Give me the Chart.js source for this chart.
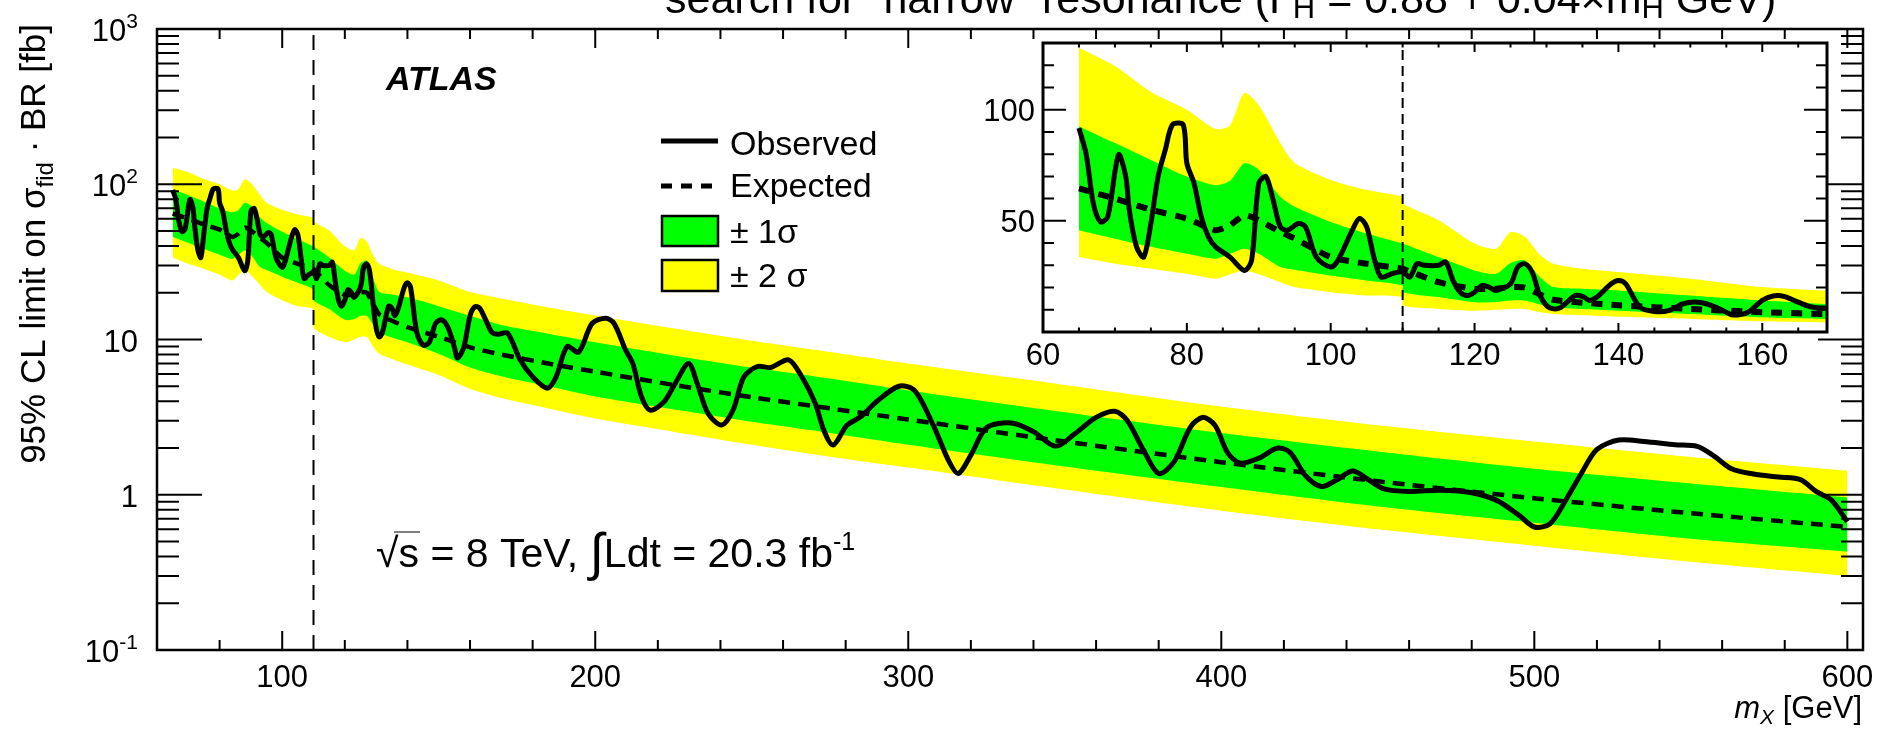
<!DOCTYPE html>
<html>
<head>
<meta charset="utf-8">
<script src="https://cdn.jsdelivr.net/npm/chart.js@4.4.1/dist/chart.umd.min.js"></script>
<style>
  body { margin: 0; background: #fff; }
  #wrap { position: relative; width: 1880px; height: 731px; overflow: hidden; }
  canvas { position: absolute; }
</style>
</head>
<body>
<div id="wrap">
  <canvas id="mainPlot" width="1880" height="731" style="left:0;top:0"></canvas>
  <canvas id="insetPlot" width="880" height="360" style="left:980px;top:30px"></canvas>
</div>
<script>
// ---- data ----
const bandMass = [65, 70, 75, 80, 84, 86, 88, 90, 93, 95, 100, 105, 110, 110, 115, 120, 123, 125, 127, 129,
                  131, 135, 140, 150, 160, 170, 185, 200, 225, 250, 275, 300, 350, 400, 450, 500, 550, 600];
const expLimit = [64.6, 60, 55, 51, 45.8, 48, 52.6, 50.3, 45, 42, 33.7, 30.7, 28.5, 28.5, 22.4, 19.4, 19.5, 20.2, 20, 17,
                  14.5, 13.2, 12, 10.4, 8.9, 8.0, 7.0, 6.2, 5.1, 4.25, 3.6, 3.05, 2.2, 1.62, 1.22, 0.95, 0.76, 0.62];
const sig2Hi = [127.9, 119.6, 108, 100, 91.3, 93, 107.5, 102, 85, 76, 68.4, 63.9, 60.8, 57.8, 50.3, 39.8, 37.5, 45, 42.8, 35,
                30.7, 28.5, 27, 24, 20.2, 18.4, 16.1, 14.3, 11.8, 9.8, 8.3, 7.0, 5.1, 3.7, 2.8, 2.2, 1.75, 1.43];
const sig1Hi = [92.5, 85, 77.4, 69.9, 66, 68, 75.9, 72.9, 60.8, 56.3, 49.5, 44.3, 39.8, 39.8, 33.7, 27.7, 26.2, 31, 32.2, 25,
                20.2, 19.5, 18.7, 16.4, 14.2, 12.4, 10.9, 9.6, 7.9, 6.6, 5.6, 4.7, 3.4, 2.5, 1.9, 1.47, 1.18, 0.96];
const sig1Lo = [45.8, 42, 38.3, 35.2, 33, 35.2, 37.5, 35.2, 29.2, 28, 25.4, 23.2, 20.9, 17.9, 15.7, 13.4, 13.5, 14.2, 14.2, 12.5,
                11.1, 10.3, 9.6, 8.1, 6.6, 5.8, 5.0, 4.3, 3.55, 2.95, 2.5, 2.1, 1.52, 1.12, 0.84, 0.66, 0.52, 0.43];
const sig2Lo = [33.7, 30.7, 28.5, 26.2, 24, 26, 27.7, 26, 22.4, 20.2, 17.9, 16.4, 15.7, 11.9, 10.4, 9.6, 10, 10.4, 10.4, 9,
                8.1, 7.5, 6.9, 5.9, 4.8, 4.2, 3.6, 3.1, 2.55, 2.1, 1.76, 1.5, 1.08, 0.79, 0.60, 0.47, 0.37, 0.30];

const obsMass = [65, 66, 67, 68, 69, 70.5, 71.5, 72, 73, 74, 75, 76, 77, 78, 79.5, 80, 81, 82, 83, 84,
                 86, 88, 89, 90, 91, 92, 93, 94, 95.5, 96.5, 98, 100, 101, 103, 104, 105, 106, 107, 108.5, 110,
                 111, 112, 113, 115, 116, 117, 118, 119, 120, 121, 122, 123, 125, 126, 127, 128, 129, 130, 131, 132,
                 134, 135, 136, 137, 139, 140, 141, 143, 145, 147, 149, 151, 153, 155, 156, 158, 160, 161.5, 163, 165,
                 167, 169, 172, 176, 180, 184.7, 187.5, 191, 194.7, 199, 203.3, 206, 209.7, 212, 214.8, 217.6, 222, 225.5,
                 229.8, 232.6, 236, 240.4, 244, 247.5, 251.8, 256, 261.8, 266, 270.3, 273, 276, 280.4, 285, 290,
                 297, 302, 308, 313, 316, 320, 325, 333, 340, 347, 353, 360, 366, 370, 375, 380, 385, 390,
                 394, 398, 402, 406, 412, 418, 422, 427, 432, 437, 442, 447, 452, 460, 470, 480, 488, 495,
                 500, 505, 510, 515, 520, 527, 535, 545, 552, 557, 563, 570, 578, 585, 590, 595, 600];
const obsLimit = [91.7, 80, 57.8, 49.5, 51.8, 79.7, 70, 54.8, 38.3, 33.7, 48.8, 69.9, 81.9, 93.2, 93.2, 75.9, 66.9, 51.8, 42.8, 38.3,
                  33.7, 27.7, 32.2, 66.9, 69.9, 59.3, 47.3, 45.8, 48.8, 47.3, 33.7, 29.2, 32.2, 45.8, 51.1, 47.3, 33.7, 24.7, 26.2, 27,
                  24.7, 30.7, 30, 30, 31.5, 23.2, 17.9, 16.4, 17.9, 20.9, 20.2, 18.7, 21.7, 29.2, 30.7, 27, 17.2, 11.9, 10.4, 11.1,
                  16.4, 16, 14.2, 15.7, 21.7, 23.2, 21.7, 11.1, 9.2, 9.6, 12.7, 13.4, 11.9, 8.9, 7.6, 8.9, 14.2, 16.2, 16, 13.4,
                  11.1, 10.8, 11, 7.4, 5.75, 4.86, 5.75, 9.0, 8.3, 12.7, 13.7, 12.7, 8.55, 7.0, 4.27, 3.5, 3.98, 5.2,
                  7.0, 5.2, 3.35, 2.81, 3.5, 5.75, 6.7, 6.6, 7.4, 5.75, 3.88, 2.61, 2.09, 2.8, 3.2, 4.0,
                  5.0, 4.7, 2.8, 1.64, 1.37, 1.8, 2.7, 2.9, 2.55, 2.05, 2.45, 3.15, 3.45, 3.0, 1.96, 1.37, 1.64, 2.7,
                  3.15, 2.8, 1.87, 1.6, 1.72, 2.0, 1.87, 1.32, 1.13, 1.25, 1.42, 1.25, 1.09, 1.05, 1.07, 1.03, 0.92, 0.74,
                  0.62, 0.65, 0.92, 1.37, 1.96, 2.25, 2.2, 2.1, 2.05, 1.8, 1.47, 1.36, 1.3, 1.25, 1.05, 0.92, 0.67];

const splitMass = 110;                       // dashed vertical line
const mainTicksX = [100, 200, 300, 400, 500, 600];
const mainDecades = [-1, 0, 1, 2, 3];        // 10^k labels
const insetTicksX = [60, 80, 100, 120, 140, 160];
const insetTicksY = [50, 100];

const F = '"Liberation Sans", Arial, Helvetica, sans-serif';
const GREEN = '#00ff00';
const YELLOW = '#ffff00';

function pts(xs, ys) {
    return xs.map((x, i) => ({ x: x, y: ys[i] }));
}

function buildDatasets(lwObs, lwExp, dashExp) {
    const none = 'rgba(0,0,0,0)';
    return [
        { label: 'Observed', data: pts(obsMass, obsLimit), borderColor: '#000', borderWidth: lwObs, fill: false, tension: 0.3 },
        { label: 'Expected', data: pts(bandMass, expLimit), borderColor: '#000', borderWidth: lwExp, borderDash: dashExp, fill: false, tension: 0.2 },
        { label: '+1 sigma', data: pts(bandMass, sig1Hi), borderColor: none, borderWidth: 1, backgroundColor: GREEN, fill: '+1', tension: 0.25 },
        { label: '-1 sigma', data: pts(bandMass, sig1Lo), borderColor: none, borderWidth: 1, fill: false, tension: 0.25 },
        { label: '+2 sigma', data: pts(bandMass, sig2Hi), borderColor: none, borderWidth: 1, backgroundColor: YELLOW, fill: '+1', tension: 0.25 },
        { label: '-2 sigma', data: pts(bandMass, sig2Lo), borderColor: none, borderWidth: 1, fill: false, tension: 0.25 }
    ];
}

// text made of pieces: [text, font, dy]
function richWidth(ctx, parts) {
    let w = 0;
    parts.forEach(p => { ctx.font = p[1]; w += ctx.measureText(p[0]).width; });
    return w;
}
function richText(ctx, parts, x, y, align) {
    const w = richWidth(ctx, parts);
    let cx = align === 'right' ? x - w : (align === 'center' ? x - w / 2 : x);
    ctx.textAlign = 'left';
    ctx.textBaseline = 'alphabetic';
    parts.forEach(p => {
        ctx.font = p[1];
        ctx.fillText(p[0], cx, y + (p[2] || 0));
        cx += ctx.measureText(p[0]).width;
    });
    return w;
}

// ========================================================
// Main plot decorations: frame, inward ticks, labels, legend
// ========================================================
const mainDecor = {
    id: 'mainDecor',
    afterDraw(chart) {
        const { ctx, chartArea: a, scales: { x, y } } = chart;
        ctx.save();
        ctx.strokeStyle = '#000';
        ctx.fillStyle = '#000';

        // dashed line at 110 GeV
        const xd = x.getPixelForValue(splitMass);
        ctx.lineWidth = 2;
        ctx.setLineDash([15, 10]);
        ctx.beginPath();
        ctx.moveTo(xd, a.bottom);
        ctx.lineTo(xd, a.top);
        ctx.stroke();
        ctx.setLineDash([]);

        // frame
        ctx.lineWidth = 2.5;
        ctx.strokeRect(a.left, a.top, a.right - a.left, a.bottom - a.top);

        // ticks
        ctx.lineWidth = 2;
        ctx.beginPath();
        for (let v = 80; v <= 600; v += 20) {
            const px = x.getPixelForValue(v);
            const len = v % 100 === 0 ? 19 : 10;
            ctx.moveTo(px, a.bottom); ctx.lineTo(px, a.bottom - len);
            ctx.moveTo(px, a.top); ctx.lineTo(px, a.top + len);
        }
        for (let k = -1; k <= 2; k++) {
            for (let m = 1; m <= 9; m++) {
                if (k === -1 && m === 1) continue;
                const py = y.getPixelForValue(m * Math.pow(10, k));
                const len = m === 1 ? 45 : 22;
                ctx.moveTo(a.left, py); ctx.lineTo(a.left + len, py);
                ctx.moveTo(a.right, py); ctx.lineTo(a.right - len, py);
            }
        }
        ctx.stroke();

        // tick labels
        ctx.font = '31px ' + F;
        ctx.textAlign = 'center';
        ctx.textBaseline = 'alphabetic';
        mainTicksX.forEach(v => ctx.fillText(String(v), x.getPixelForValue(v), a.bottom + 37));
        mainDecades.forEach(k => {
            const py = y.getPixelForValue(Math.pow(10, k)) + 12;
            let parts;
            if (k === 0) parts = [['1', '31px ' + F]];
            else if (k === 1) parts = [['10', '31px ' + F]];
            else parts = [['10', '31px ' + F], [String(k), '21px ' + F, -13]];
            richText(ctx, parts, 138, py, 'right');
        });

        // axis titles
        richText(ctx, [['m', 'italic 31px ' + F], ['X', 'italic 21px ' + F, 6], [' [GeV]', '31px ' + F]], 1862, 718, 'right');
        ctx.save();
        ctx.translate(45, 24);
        ctx.rotate(-Math.PI / 2);
        richText(ctx, [['95% CL limit on σ', '35px ' + F], ['fid', '24px ' + F, 8], [' · BR [fb]', '35px ' + F]], 0, 0, 'right');
        ctx.restore();

        // title (cut off at the top of the picture)
        richText(ctx, [['search for "narrow" resonance (Γ', '43px ' + F], ['H', '31px ' + F, 5],
                       [' = 0.88 + 0.04×m', '43px ' + F], ['H', '31px ' + F, 5], [' GeV)', '43px ' + F]], 665, 13, 'left');

        // ATLAS label
        ctx.font = 'bold italic 34px ' + F;
        ctx.textAlign = 'left';
        ctx.fillText('ATLAS', 386, 90);

        // energy / luminosity
        const ex = 376, ey = 567;
        const ef = '41px ' + F;
        ctx.font = ef;
        const wRoot = ctx.measureText('√').width;
        const wS = ctx.measureText('s').width;
        richText(ctx, [['√', ef], ['s = 8 TeV, ', ef], ['∫', '52px ' + F, 3],
                       ['Ldt = 20.3 fb', ef], ['-1', '25px ' + F, -17]], ex, ey, 'left');
        ctx.lineWidth = 1;
        ctx.beginPath();
        ctx.moveTo(ex + wRoot * 0.8, ey - 35);
        ctx.lineTo(ex + wRoot + wS + 1, ey - 35);
        ctx.stroke();

        // legend
        ctx.lineWidth = 5;
        ctx.beginPath();
        ctx.moveTo(661, 141); ctx.lineTo(718, 141);
        ctx.stroke();
        ctx.setLineDash([11, 9]);
        ctx.beginPath();
        ctx.moveTo(661, 186); ctx.lineTo(718, 186);
        ctx.stroke();
        ctx.setLineDash([]);
        ctx.lineWidth = 2.5;
        ctx.fillStyle = GREEN;
        ctx.fillRect(662, 216, 56, 30);
        ctx.strokeRect(662, 216, 56, 30);
        ctx.fillStyle = YELLOW;
        ctx.fillRect(662, 260, 56, 31);
        ctx.strokeRect(662, 260, 56, 31);
        ctx.fillStyle = '#000';
        ctx.font = '34px ' + F;
        ctx.textAlign = 'left';
        ctx.fillText('Observed', 730, 155);
        ctx.fillText('Expected', 730, 197);
        ctx.fillText('± 1σ', 730, 243);
        ctx.fillText('± 2 σ', 730, 287);

        ctx.restore();
    }
};

// ========================================================
// Inset decorations
// ========================================================
const insetDecor = {
    id: 'insetDecor',
    beforeDraw(chart) {
        const { ctx, chartArea: a } = chart;
        ctx.save();
        ctx.fillStyle = '#fff';
        ctx.fillRect(a.left, a.top, a.right - a.left, a.bottom - a.top);
        ctx.restore();
    },
    afterDraw(chart) {
        const { ctx, chartArea: a, scales: { x, y } } = chart;
        ctx.save();
        ctx.strokeStyle = '#000';
        ctx.fillStyle = '#000';

        const xd = x.getPixelForValue(splitMass);
        ctx.lineWidth = 2;
        ctx.setLineDash([10, 6]);
        ctx.beginPath();
        ctx.moveTo(xd, a.bottom);
        ctx.lineTo(xd, a.top);
        ctx.stroke();
        ctx.setLineDash([]);

        ctx.lineWidth = 3;
        ctx.strokeRect(a.left, a.top, a.right - a.left, a.bottom - a.top);

        ctx.lineWidth = 2;
        ctx.beginPath();
        for (let v = 65; v <= 165; v += 5) {
            const px = x.getPixelForValue(v);
            const len = v % 20 === 0 ? 9 : 4.5;
            ctx.moveTo(px, a.bottom); ctx.lineTo(px, a.bottom - len);
            ctx.moveTo(px, a.top); ctx.lineTo(px, a.top + len);
        }
        for (let v = 10; v <= 120; v += 10) {
            const py = y.getPixelForValue(v);
            const len = v % 50 === 0 ? 23 : 11;
            ctx.moveTo(a.left, py); ctx.lineTo(a.left + len, py);
            ctx.moveTo(a.right, py); ctx.lineTo(a.right - len, py);
        }
        ctx.stroke();

        ctx.font = '31px ' + F;
        ctx.textBaseline = 'alphabetic';
        ctx.textAlign = 'center';
        insetTicksX.forEach(v => ctx.fillText(String(v), x.getPixelForValue(v), a.bottom + 33));
        ctx.textAlign = 'right';
        insetTicksY.forEach(v => ctx.fillText(String(v), a.left - 8, y.getPixelForValue(v) + 11));
        ctx.restore();
    }
};

const baseOptions = {
    responsive: false,
    animation: false,
    plugins: { legend: { display: false }, tooltip: { enabled: false } },
    elements: { point: { radius: 0 } }
};

new Chart(document.getElementById('mainPlot'), {
    type: 'line',
    data: { datasets: buildDatasets(5, 4.5, [12, 8]) },
    options: Object.assign({}, baseOptions, {
        layout: { padding: { left: 157, top: 29, right: 17, bottom: 81 } },
        scales: {
            x: { type: 'linear', min: 60, max: 605, display: false },
            y: { type: 'logarithmic', min: 0.1, max: 1000, display: false }
        }
    }),
    plugins: [mainDecor]
});

new Chart(document.getElementById('insetPlot'), {
    type: 'line',
    data: { datasets: buildDatasets(5, 6, [11, 9]) },
    options: Object.assign({}, baseOptions, {
        layout: { padding: { left: 63, top: 13, right: 33, bottom: 58 } },
        scales: {
            x: { type: 'linear', min: 60, max: 169, display: false },
            y: { type: 'linear', min: 0, max: 130, display: false }
        }
    }),
    plugins: [insetDecor]
});
</script>
</body>
</html>
